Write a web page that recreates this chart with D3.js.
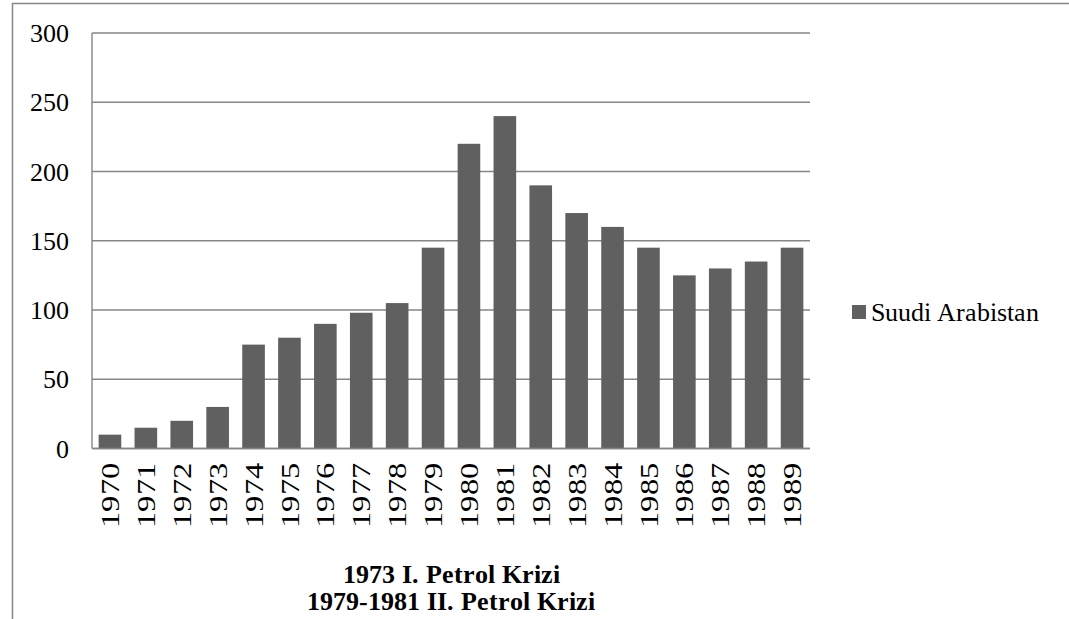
<!DOCTYPE html>
<html>
<head>
<meta charset="utf-8">
<script src="https://cdn.jsdelivr.net/npm/d3@7"></script>
<style>
  @font-face { font-family: "ChartSerif"; src: local("Liberation Serif"), local("LiberationSerif"), local("Liberation Serif Regular"), local("LiberationSerif-Regular"); font-weight: normal; }
  @font-face { font-family: "ChartSerif"; src: local("Liberation Serif Bold"), local("LiberationSerif-Bold"); font-weight: bold; }
  svg text { font-family: "ChartSerif", "Liberation Serif", Tinos, Times, serif !important; }
</style>
</head>
<body style="margin:0">
<script>
const years = ["1970","1971","1972","1973","1974","1975","1976","1977","1978","1979",
               "1980","1981","1982","1983","1984","1985","1986","1987","1988","1989"];
const values = [10, 15, 20, 30, 75, 80, 90, 98, 105, 145,
                220, 240, 190, 170, 160, 145, 125, 130, 135, 145];
const yTicks = [0, 50, 100, 150, 200, 250, 300];
const seriesName = "Suudi Arabistan";
const titleLines = ["1973 I. Petrol Krizi", "1979-1981 II. Petrol Krizi"];

const W = 1069, H = 619;
const plot = { left: 92, right: 810, top: 33, bottom: 448.5 };

const svg = d3.select("body").append("svg")
  .attr("width", W).attr("height", H)
  .style("display", "block");

function serif(sel, size, weight) {
  sel.style("font-size", size + "px")
     .style("font-weight", weight || "normal")
     .attr("fill", "#000");
}

// outer frame
svg.append("rect")
  .attr("x", 12.5).attr("y", 3.5)
  .attr("width", W + 20).attr("height", H + 40)
  .attr("fill", "none").attr("stroke", "#868686").attr("stroke-width", 1.5);

const x = d3.scaleBand().domain(years).range([plot.left, plot.right]).paddingInner(0.37).paddingOuter(0.185);
const y = d3.scaleLinear().domain([0, 300]).range([plot.bottom, plot.top]);

// gridlines
svg.append("g").selectAll("line").data(yTicks).join("line")
  .attr("x1", plot.left).attr("x2", plot.right)
  .attr("y1", d => y(d)).attr("y2", d => y(d))
  .attr("stroke", "#868686").attr("stroke-width", 1.4);

// y axis line
svg.append("line")
  .attr("x1", plot.left).attr("x2", plot.left)
  .attr("y1", y(300)).attr("y2", y(0))
  .attr("stroke", "#868686").attr("stroke-width", 1.4);

// bars
svg.append("g").selectAll("rect").data(values).join("rect")
  .attr("x", (d, i) => x(years[i]))
  .attr("width", x.bandwidth())
  .attr("y", d => y(d))
  .attr("height", d => y(0) - y(d))
  .attr("fill", "#606060");

// baseline over bars
svg.append("line")
  .attr("x1", plot.left).attr("x2", plot.right)
  .attr("y1", y(0)).attr("y2", y(0))
  .attr("stroke", "#868686").attr("stroke-width", 1.4);

// y tick labels
svg.append("g").selectAll("text").data(yTicks).join("text")
  .call(serif, 26)
  .attr("x", 69).attr("y", d => y(d))
  .attr("dy", "0.35em")
  .attr("text-anchor", "end")
  .text(d => d);

// x labels (rotated, stretched along reading direction)
svg.append("g").selectAll("text").data(years).join("text")
  .call(serif, 26)
  .attr("transform", d => `translate(${x(d) + x.bandwidth() / 2},462) rotate(-90) scale(1.25,1)`)
  .attr("dy", "0.35em")
  .attr("text-anchor", "end")
  .text(d => d);

// axis title lines
const cx = (plot.left + plot.right) / 2;
svg.append("g").selectAll("text").data(titleLines).join("text")
  .call(serif, 26, "bold")
  .attr("x", cx).attr("y", (d, i) => 583 + i * 27)
  .attr("text-anchor", "middle")
  .text(d => d);

// legend
svg.append("rect").attr("x", 852).attr("y", 305).attr("width", 14).attr("height", 14).attr("fill", "#606060");
svg.append("text").call(serif, 26)
  .attr("x", 871).attr("y", 321).text(seriesName);
</script>
</body>
</html>
